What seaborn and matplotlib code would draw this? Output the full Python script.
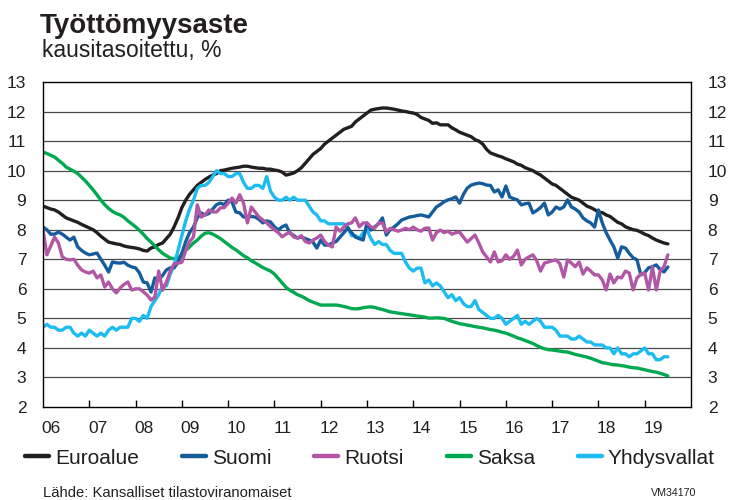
import numpy as np
import pandas as pd
import matplotlib
matplotlib.use("Agg")
import matplotlib.pyplot as plt
from matplotlib.lines import Line2D
import seaborn as sns

# ---- data: monthly, Jan 2006 .. Jul 2019 ----
start_year = 2006
euroalue = [
    8.80, 8.75, 8.70, 8.67, 8.60, 8.50, 8.40, 8.35, 8.30, 8.25, 8.18, 8.12,
    8.06, 8.00, 7.90, 7.78, 7.68, 7.58, 7.55, 7.52, 7.50, 7.45, 7.42, 7.40,
    7.38, 7.35, 7.30, 7.28, 7.38, 7.42, 7.50, 7.55, 7.70, 7.85, 8.10, 8.40,
    8.75, 9.00, 9.20, 9.35, 9.50, 9.60, 9.70, 9.78, 9.85, 9.90, 10.00, 10.02,
    10.05, 10.08, 10.10, 10.12, 10.15, 10.15, 10.12, 10.10, 10.08, 10.08, 10.05, 10.05,
    10.02, 10.00, 9.95, 9.85, 9.88, 9.92, 10.00, 10.10, 10.25, 10.40, 10.55, 10.65,
    10.75, 10.90, 11.00, 11.10, 11.20, 11.30, 11.40, 11.45, 11.50, 11.65, 11.75, 11.85,
    11.95, 12.05, 12.08, 12.10, 12.12, 12.12, 12.10, 12.08, 12.05, 12.02, 12.00, 11.97,
    11.95, 11.90, 11.80, 11.75, 11.70, 11.60, 11.62, 11.55, 11.55, 11.55, 11.45, 11.38,
    11.30, 11.25, 11.20, 11.15, 11.05, 11.00, 10.90, 10.72, 10.60, 10.55, 10.50, 10.46,
    10.40, 10.35, 10.30, 10.22, 10.18, 10.10, 10.05, 10.00, 9.92, 9.85, 9.75, 9.65,
    9.55, 9.50, 9.40, 9.30, 9.20, 9.10, 9.05, 9.00, 8.90, 8.80, 8.75, 8.68,
    8.60, 8.58, 8.50, 8.45, 8.35, 8.25, 8.20, 8.10, 8.05, 8.00, 7.98, 7.92,
    7.85, 7.80, 7.72, 7.65, 7.60, 7.55, 7.52]

suomi = [
    8.09, 8.00, 7.85, 7.85, 7.92, 7.85, 7.75, 7.65, 7.75, 7.42, 7.30, 7.21,
    7.15, 7.18, 7.21, 7.00, 6.80, 6.57, 6.91, 6.88, 6.87, 6.90, 6.80, 6.74,
    6.71, 6.54, 6.23, 6.20, 5.89, 6.37, 6.30, 6.45, 6.64, 6.71, 6.71, 6.90,
    7.20, 7.60, 7.90, 8.09, 8.40, 8.57, 8.50, 8.55, 8.70, 8.85, 8.90, 8.85,
    9.00, 8.94, 8.60, 8.57, 8.43, 8.43, 8.45, 8.43, 8.35, 8.23, 8.30, 8.26,
    8.10, 7.99, 8.10, 8.16, 7.89, 7.80, 7.72, 7.75, 7.70, 7.65, 7.58, 7.38,
    7.65, 7.48, 7.48, 7.55, 7.60, 7.75, 7.90, 8.06, 7.90, 7.75, 7.70, 7.65,
    8.23, 7.99, 8.10, 8.20, 8.40, 7.82, 8.00, 8.09, 8.20, 8.33, 8.38, 8.43,
    8.45, 8.48, 8.50, 8.47, 8.43, 8.60, 8.77, 8.85, 8.95, 9.01, 9.05, 9.11,
    8.90, 9.20, 9.41, 9.51, 9.55, 9.58, 9.56, 9.51, 9.50, 9.28, 9.35, 9.11,
    9.48, 9.11, 9.05, 9.01, 8.84, 8.88, 8.90, 8.57, 8.65, 8.75, 8.90, 8.50,
    8.60, 8.77, 8.70, 8.77, 9.01, 8.77, 8.70, 8.60, 8.40, 8.30, 8.23, 8.09,
    8.67, 8.23, 7.90, 7.65, 7.42, 7.04, 7.42, 7.38, 7.20, 7.05, 6.98, 6.47,
    6.55, 6.71, 6.75, 6.81, 6.65, 6.57, 6.74]

ruotsi = [
    8.00, 7.15, 7.45, 7.75, 7.55, 7.08, 7.00, 6.98, 7.00, 6.80, 6.64, 6.57,
    6.53, 6.60, 6.37, 6.47, 6.06, 6.23, 6.00, 5.86, 6.03, 6.15, 6.23, 5.96,
    6.00, 6.00, 5.90, 5.79, 5.62, 5.72, 6.60, 5.95, 6.23, 6.60, 6.85, 6.87,
    6.90, 7.30, 7.60, 7.75, 8.84, 8.43, 8.50, 8.67, 8.60, 8.60, 8.74, 8.75,
    8.90, 9.07, 8.90, 9.18, 8.90, 8.23, 8.77, 8.60, 8.43, 8.33, 8.23, 8.10,
    8.00, 7.90, 7.76, 7.85, 7.92, 7.75, 7.72, 7.80, 7.60, 7.55, 7.65, 7.72,
    7.82, 7.60, 7.48, 7.42, 8.09, 7.95, 8.09, 8.20, 8.23, 8.40, 8.10, 8.23,
    8.23, 8.10, 8.05, 8.23, 8.23, 7.92, 8.05, 8.00, 7.95, 7.99, 8.05, 8.00,
    8.09, 8.00, 7.95, 8.05, 8.06, 7.65, 7.90, 7.99, 7.90, 7.95, 7.85, 7.90,
    7.92, 7.75, 7.58, 7.70, 7.82, 7.55, 7.25, 7.08, 6.91, 7.25, 6.91, 6.95,
    7.15, 7.00, 7.10, 7.31, 6.81, 7.00, 7.08, 7.15, 6.95, 6.60, 6.87, 6.91,
    6.95, 6.98, 6.85, 6.40, 6.98, 6.87, 6.75, 6.91, 6.50, 6.71, 6.60, 6.47,
    6.47, 6.30, 5.96, 6.50, 6.20, 6.40, 6.37, 6.60, 6.53, 5.96, 6.37, 6.50,
    6.53, 5.96, 6.74, 5.96, 6.60, 6.75, 7.15]

saksa = [
    10.63, 10.58, 10.52, 10.46, 10.35, 10.25, 10.12, 10.05, 9.98, 9.90, 9.78, 9.65,
    9.50, 9.35, 9.18, 9.00, 8.85, 8.72, 8.62, 8.55, 8.50, 8.42, 8.30, 8.20,
    8.10, 7.98, 7.85, 7.70, 7.58, 7.45, 7.32, 7.20, 7.12, 7.04, 7.02, 7.05,
    7.15, 7.30, 7.42, 7.55, 7.65, 7.78, 7.88, 7.90, 7.85, 7.78, 7.70, 7.60,
    7.50, 7.40, 7.32, 7.22, 7.12, 7.05, 6.95, 6.88, 6.80, 6.72, 6.66, 6.60,
    6.50, 6.35, 6.20, 6.05, 5.95, 5.88, 5.80, 5.75, 5.68, 5.60, 5.55, 5.50,
    5.45, 5.45, 5.45, 5.45, 5.45, 5.43, 5.40, 5.37, 5.33, 5.32, 5.33, 5.36,
    5.38, 5.39, 5.37, 5.33, 5.30, 5.26, 5.22, 5.20, 5.18, 5.16, 5.14, 5.12,
    5.10, 5.08, 5.06, 5.04, 5.01, 5.01, 5.02, 5.01, 5.00, 4.95, 4.90, 4.86,
    4.82, 4.80, 4.77, 4.75, 4.72, 4.70, 4.68, 4.65, 4.62, 4.60, 4.57, 4.53,
    4.50, 4.45, 4.40, 4.34, 4.30, 4.25, 4.20, 4.15, 4.08, 4.02, 3.97, 3.94,
    3.93, 3.91, 3.89, 3.87, 3.86, 3.82, 3.78, 3.75, 3.72, 3.69, 3.65, 3.60,
    3.55, 3.50, 3.48, 3.45, 3.43, 3.42, 3.40, 3.38, 3.35, 3.33, 3.32, 3.29,
    3.26, 3.23, 3.20, 3.18, 3.14, 3.10, 3.05]

yhdysvallat = [
    4.7, 4.8, 4.7, 4.7, 4.6, 4.6, 4.7, 4.7, 4.5, 4.4, 4.5, 4.4,
    4.6, 4.5, 4.4, 4.5, 4.4, 4.6, 4.7, 4.6, 4.7, 4.7, 4.7, 5.0,
    5.0, 4.9, 5.1, 5.0, 5.4, 5.6, 5.8, 6.1, 6.1, 6.5, 6.8, 7.3,
    7.8, 8.3, 8.7, 9.0, 9.4, 9.5, 9.5, 9.6, 9.8, 10.0, 9.9, 9.9,
    9.8, 9.8, 9.9, 9.9, 9.6, 9.4, 9.4, 9.5, 9.5, 9.4, 9.8, 9.3,
    9.1, 9.0, 9.0, 9.1, 9.0, 9.1, 9.0, 9.0, 9.0, 8.8, 8.6, 8.5,
    8.3, 8.3, 8.2, 8.2, 8.2, 8.2, 8.2, 8.1, 7.8, 7.8, 7.7, 7.9,
    8.0, 7.7, 7.5, 7.6, 7.5, 7.5, 7.3, 7.2, 7.2, 7.2, 6.9, 6.7,
    6.6, 6.7, 6.7, 6.2, 6.3, 6.1, 6.2, 6.1, 5.9, 5.7, 5.8, 5.6,
    5.7, 5.5, 5.4, 5.4, 5.6, 5.3, 5.2, 5.1, 5.0, 5.0, 5.1, 5.0,
    4.8, 4.9, 5.0, 5.1, 4.8, 4.9, 4.8, 4.9, 5.0, 4.9, 4.7, 4.7,
    4.7, 4.6, 4.4, 4.4, 4.4, 4.3, 4.3, 4.4, 4.3, 4.2, 4.2, 4.1,
    4.1, 4.1, 4.0, 4.0, 3.8, 4.0, 3.8, 3.8, 3.7, 3.8, 3.8, 3.9,
    4.0, 3.8, 3.8, 3.6, 3.6, 3.7, 3.7]

series_names = ["Euroalue", "Suomi", "Ruotsi", "Saksa", "Yhdysvallat"]
series_values = [euroalue, suomi, ruotsi, saksa, yhdysvallat]
colors = {"Euroalue": "#231f20", "Suomi": "#155c9c", "Ruotsi": "#b256a6",
          "Saksa": "#00a84f", "Yhdysvallat": "#1cbcf0"}
draw_order = ["Euroalue", "Saksa", "Yhdysvallat", "Suomi", "Ruotsi"]
year_labels = ["06", "07", "08", "09", "10", "11", "12", "13", "14", "15",
               "16", "17", "18", "19"]
y_ticks = list(range(2, 14))

frames = []
for name, vals in zip(series_names, series_values):
    t = start_year + np.arange(len(vals)) / 12.0
    frames.append(pd.DataFrame({"t": t, "v": vals, "sarja": name}))
df = pd.concat(frames, ignore_index=True)

# ---- figure ----
sns.set_style("white")
plt.rcParams["font.family"] = ["Liberation Sans", "DejaVu Sans"]

fig = plt.figure(figsize=(7.3, 5.0), dpi=100)
ax = fig.add_axes([43 / 730, 1 - 407 / 500, (691 - 43) / 730, (407 - 82) / 500])

for y in range(3, 13):
    ax.axhline(y, color="#4a4a4a", lw=0.9, zorder=0)

sns.lineplot(data=df, x="t", y="v", hue="sarja", hue_order=draw_order,
             palette=colors, lw=2.4, ax=ax, legend=False, estimator=None,
             sort=False)

ax.set_xlim(2006, 2020)
ax.set_ylim(2, 13)
ax.set_xlabel("")
ax.set_ylabel("")
for s in ax.spines.values():
    s.set_visible(True)
    s.set_color("black")
    s.set_linewidth(1.0)

ax.set_yticks(y_ticks)
ax.tick_params(axis="y", which="major", length=0, pad=12, labelsize=12.5,
               left=True, right=True, labelleft=True, labelright=True,
               colors="#231f20")

years = np.arange(2006, 2020)
ax.set_xticks(np.arange(2007, 2020))
ax.set_xticklabels([])
ax.tick_params(axis="x", which="major", direction="in", length=5,
               width=1.0, color="black", bottom=True)
ax.set_xticks(years + 0.18, minor=True)
ax.set_xticklabels(year_labels, minor=True)
ax.tick_params(axis="x", which="minor", length=0, pad=10, labelsize=12.5,
               colors="#231f20")

# titles
fig.text(40 / 730, 1 - 33 / 500, "Työttömyysaste", fontsize=20,
         fontweight="bold", va="baseline", ha="left", color="#231f20")
fig.text(42 / 730, 1 - 57 / 500, "kausitasoitettu, %", fontsize=16.5,
         va="baseline", ha="left", color="#231f20")

# legend
legend_order = ["Euroalue", "Suomi", "Ruotsi", "Saksa", "Yhdysvallat"]
handles = [Line2D([0], [0], color=colors[n], lw=3.2) for n in legend_order]
fig.legend(handles, legend_order, loc="center", ncol=5, frameon=False,
           bbox_to_anchor=(370 / 730, 1 - 458 / 500), fontsize=15,
           handlelength=1.15, handletextpad=0.3, columnspacing=2.05,
           labelcolor="#231f20")

fig.text(43 / 730, 1 - 493 / 500, "Lähde: Kansalliset tilastoviranomaiset",
         fontsize=10.6, va="center", ha="left", color="#231f20")
fig.text(696 / 730, 1 - 493 / 500, "VM34170", fontsize=7.7,
         va="center", ha="right", color="#231f20")

fig.savefig("out.png", dpi=100)
